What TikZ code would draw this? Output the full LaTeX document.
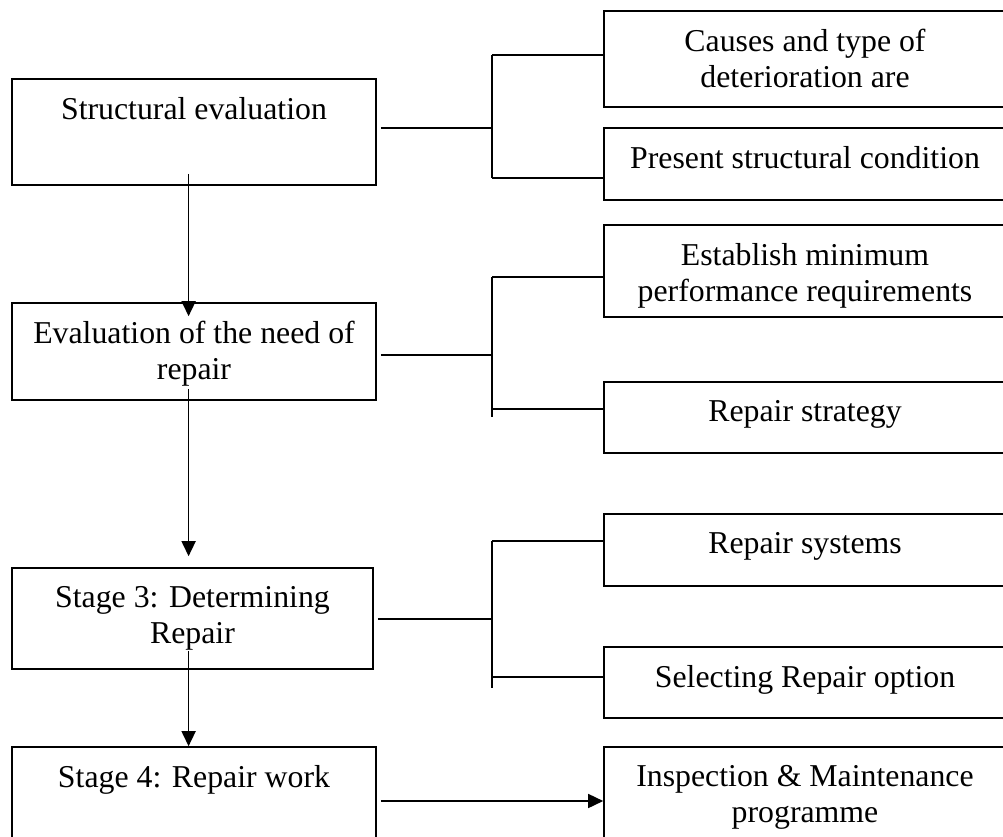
\documentclass[tikz,border=0pt]{standalone}
\usepackage{fontspec}
\setmainfont{Liberation Serif}
\usetikzlibrary{positioning,arrows.meta}

\tikzset{
  box/.style={draw, line width=1.6pt, inner sep=0pt},
  txt/.style={inner sep=0pt, align=center, font=\fontsize{31.8}{36.5}\selectfont}
}

\begin{document}
\begin{tikzpicture}[x=1pt,y=-1pt,line width=1.6pt,>={Triangle[length=15pt,width=14pt]}]
\useasboundingbox (0,0) rectangle (1003,837);
\clip (0,0) rectangle (1003,837);

% left column
\node[box, minimum width=364pt, minimum height=106pt] (se) at (194,132) {};
\node[box, minimum width=364pt, minimum height=97pt] (ev) at (194,351.5) {};
\node[box, minimum width=361pt, minimum height=101pt] (dr) at (192.5,618.5) {};
\node[box, minimum width=364pt, minimum height=108pt] (sw) at (194,801) {};

\node[txt, below=18pt of se.north] (seT) {Structural evaluation};
\node[txt, below=18pt of ev.north] (evT) {Evaluation of the need of\\repair};
\node[txt, below=18pt of dr.north] (drT) {Stage 3: Determining\\Repair};
\node[txt, below=18pt of sw.north] (swT) {Stage 4: Repair work};

% right column
\node[box, minimum width=402pt, minimum height=96pt] (cs) at (805,59) {};
\node[box, minimum width=402pt, minimum height=72pt] (ps) at (805,164) {};
\node[box, minimum width=402pt, minimum height=92pt] (pr) at (805,271) {};
\node[box, minimum width=402pt, minimum height=71pt] (rs) at (805,417.5) {};
\node[box, minimum width=402pt, minimum height=72pt] (sy) at (805,550) {};
\node[box, minimum width=402pt, minimum height=71pt] (so) at (805,682.5) {};
\node[box, minimum width=402pt, minimum height=108pt] (im) at (805,801) {};

\node[txt, below=18pt of cs.north] (csT) {Causes and type of\\deterioration are};
\node[txt, below=18pt of ps.north] (psT) {Present structural condition};
\node[txt, below=18pt of pr.north] (prT) {Establish minimum\\performance requirements};
\node[txt, below=18pt of rs.north] (rsT) {Repair strategy};
\node[txt, below=18pt of sy.north] (syT) {Repair systems};
\node[txt, below=18pt of so.north] (soT) {Selecting Repair option};
\node[txt, below=18pt of im.north] (imT) {Inspection \& Maintenance\\programme};

% main flow
\draw[->] ([xshift=-5.4pt,yshift=12pt]se.south) -- ([xshift=-5.4pt,yshift=-14pt]ev.north);
\draw[->] ([xshift=-5.4pt,yshift=12pt]ev.south) -- ([xshift=-3.9pt,yshift=11pt]dr.north);
\draw[->] ([xshift=-3.9pt,yshift=19pt]dr.south) -- ([xshift=-5.4pt]sw.north);
\draw[->] ([xshift=4pt]sw.east) -- (im.west);

% branches
\coordinate (t1) at (492,55);  \coordinate (j1) at (492,128); \coordinate (b1) at (492,178);
\draw (t1) -- (b1);
\draw ([xshift=4pt]se.east |- j1) -- (j1);
\draw (t1) -- (t1 -| cs.west);
\draw (b1) -- (b1 -| ps.west);

\coordinate (t2) at (492,277); \coordinate (j2) at (492,355); \coordinate (b2) at (492,409);
\draw (t2) -- ([yshift=-8pt]b2);
\draw ([xshift=4pt]ev.east |- j2) -- (j2);
\draw (t2) -- (t2 -| pr.west);
\draw (b2) -- (b2 -| rs.west);

\coordinate (t3) at (492,541); \coordinate (j3) at (492,619); \coordinate (b3) at (492,677);
\draw (t3) -- ([yshift=-11pt]b3);
\draw ([xshift=4pt]dr.east |- j3) -- (j3);
\draw (t3) -- (t3 -| sy.west);
\draw (b3) -- (b3 -| so.west);
\end{tikzpicture}
\end{document}
